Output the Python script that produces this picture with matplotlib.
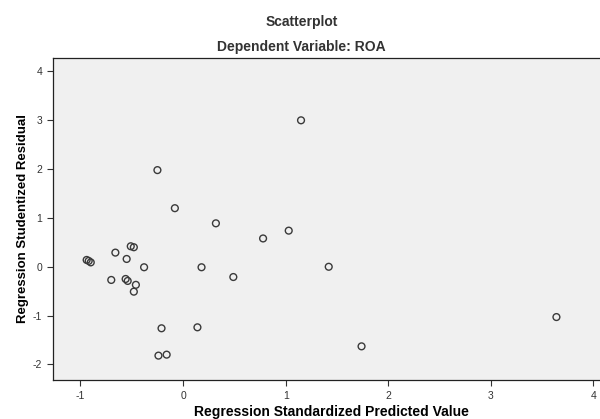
import matplotlib
matplotlib.use("Agg")
import matplotlib.pyplot as plt

# SPSS residual plot
predicted = [1.15, -0.25, -0.08, 0.32, 0.78, 1.03,
             -0.94, -0.92, -0.90, -0.66, -0.51, -0.48, -0.55,
             -0.38, 0.18, 0.49, 1.42,
             -0.70, -0.56, -0.54, -0.46, -0.48,
             -0.21, 0.14, -0.24, -0.16, 1.74, 3.64]
residual = [3.0, 1.98, 1.20, 0.89, 0.58, 0.74,
            0.14, 0.12, 0.09, 0.29, 0.42, 0.40, 0.16,
            -0.01, -0.01, -0.21, 0.0,
            -0.27, -0.25, -0.29, -0.37, -0.51,
            -1.26, -1.24, -1.82, -1.80, -1.63, -1.03]

x_ticks = [-1, 0, 1, 2, 3, 4]
y_ticks = [-2, -1, 0, 1, 2, 3, 4]

plt.rcParams['font.family'] = ['Liberation Sans', 'DejaVu Sans']
plt.rcParams['axes.unicode_minus'] = False

fig = plt.figure(figsize=(6, 4.19), dpi=100)
ax = fig.add_axes([0.088, 0.093, 0.93, 0.769])
ax.set_facecolor('#f0f0f0')

ax.scatter(predicted, residual, s=24, facecolors='none',
           edgecolors='#3a3a3a', linewidths=1.0, zorder=3)

ax.set_xlim(-1.27, 4.17)
ax.set_ylim(-2.32, 4.28)
ax.set_xticks(x_ticks)
ax.set_yticks(y_ticks)
ax.tick_params(labelsize=7.5, colors='#333333', length=4, width=0.8)
ax.tick_params(axis='x', pad=4)

for side in ['left', 'bottom', 'top']:
    ax.spines[side].set_color('#222222')
    ax.spines[side].set_linewidth(0.9)
ax.spines['right'].set_visible(False)

ax.set_xlabel('Regression Standardized Predicted Value', fontsize=10,
              fontweight='bold', labelpad=3)
ax.set_ylabel('Regression Studentized Residual', fontsize=9.5,
              fontweight='bold', labelpad=3)

fig.text(0.503, 0.947, 'Scatterplot', ha='center', va='center',
         fontsize=10, fontweight='bold', color='#333333')
fig.text(0.503, 0.889, 'Dependent Variable: ROA', ha='center', va='center',
         fontsize=10, fontweight='bold', color='#333333')

fig.savefig('out.png', dpi=100)
